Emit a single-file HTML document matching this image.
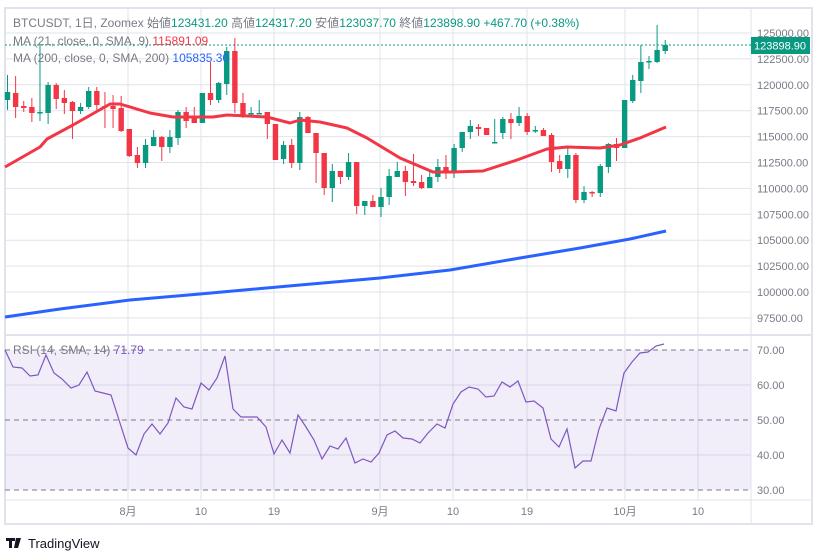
<!DOCTYPE html>
<html><head><meta charset="utf-8"><style>
body{margin:0;background:#fff;width:817px;height:560px;overflow:hidden;font-family:"Liberation Sans","Noto Sans CJK JP",sans-serif}
svg{position:absolute;left:0;top:0}
text{font-family:"Liberation Sans","Noto Sans CJK JP",sans-serif}
</style></head><body>
<svg id="s" width="817" height="560" viewBox="0 0 817 560" xmlns="http://www.w3.org/2000/svg">
<rect x="5" y="8" width="807" height="516" fill="#fff" stroke="#e0e3eb" stroke-width="2"/>
<g id="grid" stroke="#e0e3eb" stroke-width="1"></g>
<rect x="5" y="350" width="746" height="140" fill="#7e57c2" fill-opacity="0.1"/>
<g stroke="#787b86" stroke-dasharray="5,4" stroke-width="1">
<line x1="5" y1="350" x2="751" y2="350"/><line x1="5" y1="420" x2="751" y2="420"/><line x1="5" y1="490" x2="751" y2="490"/>
</g>
<line x1="751" y1="8" x2="751" y2="524" stroke="#e0e3eb"/>
<line x1="5" y1="335" x2="812" y2="335" stroke="#e0e3eb" stroke-width="2"/>
<line x1="5" y1="500" x2="812" y2="500" stroke="#e0e3eb"/>
<g id="candles"></g>
<polyline fill="none" stroke="#f23645" stroke-width="3" stroke-linejoin="round" points="5,167 40,147 47,139 73,125 110,104 120,104 150,113 173,117 213,117 227,115 267,117 290,123 300,120 320,122 347,128 367,138 400,158 433,172 453,172 483,171 517,160 547,149 567,147 600,148 620,145 640,138 666,127"/>
<polyline fill="none" stroke="#2962ff" stroke-width="3" stroke-linejoin="round" points="5,317 60,309 130,300 200,294 300,285 380,278 450,270 520,258 580,248 630,239 666,231"/>
<line x1="5" y1="45" x2="751" y2="45" stroke="#089981" stroke-dasharray="2,2"/>
<polyline fill="none" stroke="#7e57c2" stroke-width="1.2" points="5,350 13,367 22,368 30,376 38,375 46,355 54,373 62,379 71,388 79,385 87,372 95,391 103,393 111,395 119,420 128,448 136,455 144,434 152,424 160,434 168,423 176,398 184,407 192,409 201,383 209,390 217,378 225,356 233,409 241,417 249,417 257,417 266,427 274,454 282,440 290,453 298,415 306,427 314,440 322,459 330,446 338,449 346,438 355,463 363,459 371,462 379,453 387,435 395,431 403,438 412,439 420,443 428,433 437,424 445,428 453,404 461,392 469,387 478,389 486,397 494,396 502,382 510,387 518,381 526,402 534,401 543,408 551,439 559,447 567,429 575,468 583,461 591,461 599,429 607,408 616,411 624,373 632,362 640,353 648,352 656,346 664,344"/>
<g font-size="11" fill="#787b86" id="ax"></g>
<rect x="751" y="37" width="59" height="17" fill="#089981"/>
<text x="780" y="49.5" font-size="11" fill="#fff" text-anchor="middle">123898.90</text>
<text x="13" y="27" font-size="12" fill="#787b86">BTCUSDT, 1日, Zoomex  始値<tspan fill="#089981">123431.20</tspan>  高値<tspan fill="#089981">124317.20</tspan>  安値<tspan fill="#089981">123037.70</tspan>  終値<tspan fill="#089981">123898.90</tspan>  <tspan fill="#089981">+467.70 (+0.38%)</tspan></text>
<text x="13" y="45" font-size="12" fill="#787b86">MA (21, close, 0, SMA, 9)  <tspan fill="#f23645">115891.09</tspan></text>
<text x="13" y="62" font-size="12" fill="#787b86">MA (200, close, 0, SMA, 200)  <tspan fill="#2962ff">105835.30</tspan></text>
<text x="13" y="354" font-size="12" fill="#787b86">RSI (14, SMA, 14)  <tspan fill="#7e57c2">71.79</tspan></text>
<g fill="#131722"><rect x="6" y="538" width="9" height="3"/><rect x="9" y="538" width="3" height="10"/><path d="M16 538h5l-3 10h-4z"/><circle cx="18" cy="540" r="0"/></g>
<text x="28" y="548" font-size="13" fill="#131722">TradingView</text>
</svg>
<script>
var ns="http://www.w3.org/2000/svg";
function el(p,t,a){var e=document.createElementNS(ns,t);for(var k in a)e.setAttribute(k,a[k]);p.appendChild(e);return e;}
var g=document.getElementById('grid'),ax=document.getElementById('ax');
[128,201,274,380,453,527,625,698].forEach(function(x){el(g,'line',{x1:x,y1:8,x2:x,y2:500});});
var labs=[[128,'8月'],[201,'10'],[274,'19'],[380,'9月'],[453,'10'],[527,'19'],[625,'10月'],[698,'10']];
labs.forEach(function(l){var t=el(ax,'text',{x:l[0],y:515,'text-anchor':'middle'});t.textContent=l[1];});
for(var i=0;i<12;i++){var y=33+i*25.9;el(g,'line',{x1:5,y1:y,x2:751,y2:y});
 if(Math.abs(y-45)>8){var t=el(ax,'text',{x:757,y:y+4});t.textContent=(125000-i*2500)+'.00';}}
[385,455].forEach(function(y){el(g,'line',{x1:5,y1:y,x2:751,y2:y});});
[[350,'70.00'],[385,'60.00'],[420,'50.00'],[455,'40.00'],[490,'30.00']].forEach(function(r){var t=el(ax,'text',{x:757,y:r[0]+4});t.textContent=r[1];});
// [open_y, close_y, high_y, low_y]
var C=[[100,92,75,110],[93,107,76,118],[106,108,101,112],[107,113,98,122],[113,112,45,121],[113,85,82,124],[85,99,83,109],[98,103,90,114],[102,111,101,139],[111,107,103,114],[107,91,87,109],[91,105,87,110],[106,107,92,128],[106,109,95,128],[108,131,96,132],[129,156,129,157],[155,163,147,168],[163,145,139,168],[146,137,130,146],[137,147,136,161],[147,137,130,153],[138,112,110,145],[112,121,107,128],[117,123,107,123],[123,93,93,123],[93,100,62,105],[100,83,82,103],[84,51,47,95],[51,103,38,113],[103,115,93,118],[114,113,107,115],[114,113,100,114],[112,124,112,139],[124,160,124,160],[159,145,141,164],[145,163,139,168],[163,117,112,170],[117,133,116,133],[133,153,133,183],[153,188,153,195],[188,171,164,202],[171,177,171,184],[177,162,153,180],[162,206,162,214],[206,201,201,215],[201,207,195,207],[207,197,188,217],[197,176,169,205],[177,171,162,177],[171,182,166,196],[181,183,154,186],[182,188,175,189],[188,177,172,188],[177,167,159,182],[167,173,155,179],[173,148,144,178],[148,132,132,152],[132,126,120,139],[127,129,124,136],[128,135,128,135],[143,142,119,143],[133,119,117,139],[119,123,113,139],[123,116,107,126],[116,132,113,135],[131,130,126,133],[130,136,128,136],[135,162,133,172],[161,169,155,173],[169,155,147,178],[155,200,153,203],[200,192,186,203],[192,193,191,197],[193,166,164,197],[167,144,143,173],[144,148,138,161],[148,100,100,148],[101,80,75,103],[81,62,45,93],[62,61,56,69],[62,50,25,63],[51,45,40,54]];
var cg=document.getElementById('candles');
C.forEach(function(c,k){var x=7.5+8.12*k;var up=c[1]<c[0];var col=up?'#089981':'#f23645';
 el(cg,'line',{x1:x,y1:c[2],x2:x,y2:c[3],stroke:col,'stroke-width':1});
 var t=Math.min(c[0],c[1]),h=Math.max(1.5,Math.abs(c[0]-c[1]));
 el(cg,'rect',{x:x-2.7,y:t,width:5.4,height:h,fill:col});});
</script>
</body></html>
